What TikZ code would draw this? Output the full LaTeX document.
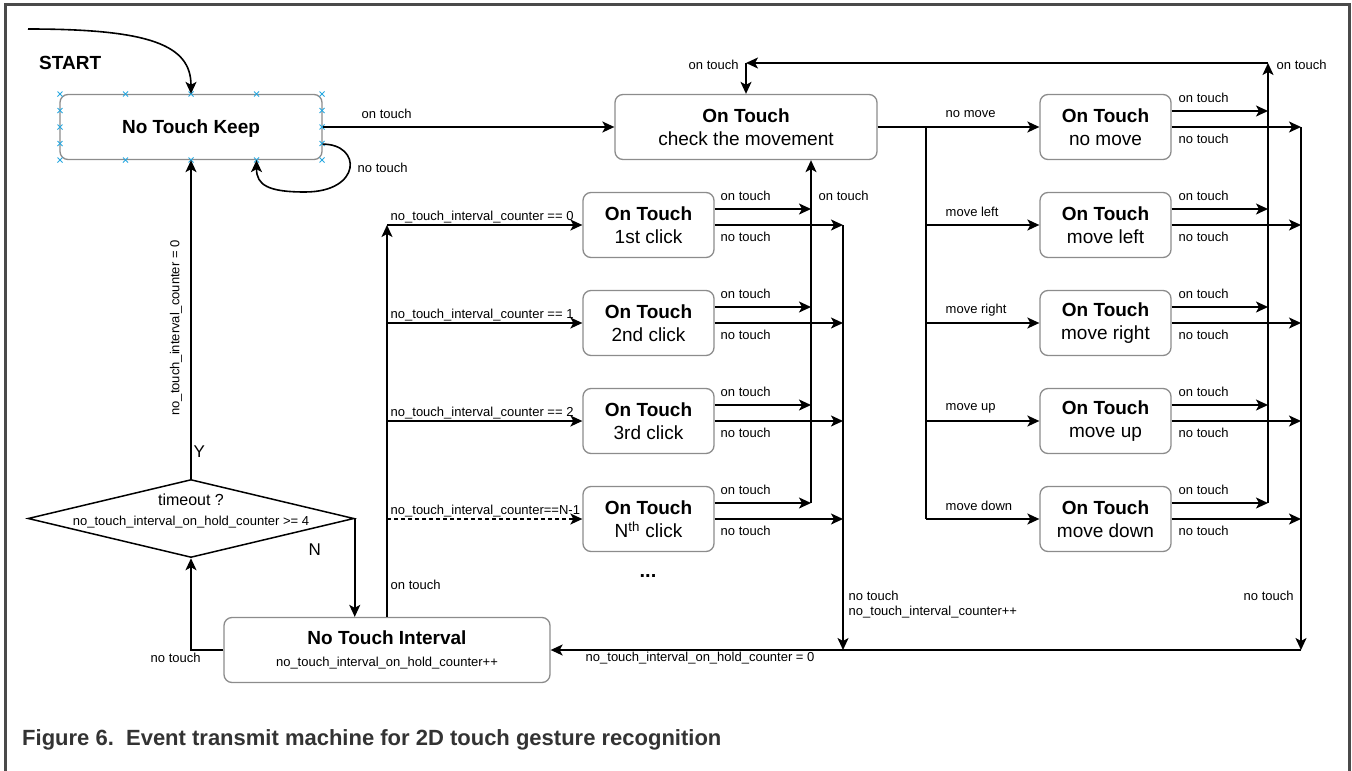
\documentclass[tikz,border=0pt]{standalone}
\usepackage{fontspec}
\setmainfont{Liberation Sans}
\usetikzlibrary{arrows.meta,positioning,shapes.geometric}

\definecolor{boxgray}{HTML}{8C8C8C}
\definecolor{handle}{HTML}{29A8E0}
\definecolor{framegray}{HTML}{4A4A4A}
\definecolor{capgray}{HTML}{333333}

\newcommand{\lblfont}{\fontsize{13}{15}\selectfont}
\newcommand{\boxfont}{\fontsize{19}{23}\selectfont}

\begin{document}
\begin{tikzpicture}[
  x=1pt, y=-1pt,
  font=\lblfont,
  state/.style={draw=boxgray, line width=1.3pt, rounded corners=8pt, fill=white,
                minimum width=131pt, minimum height=65pt, inner sep=1pt,
                align=center, font=\boxfont},
  wide/.style={state, minimum width=262pt},
  decision/.style={draw, line width=1.5pt, diamond, minimum width=326pt,
                   minimum height=78pt, inner sep=0pt},
  lbl/.style={inner sep=0.5pt, anchor=west, font=\lblfont},
  big/.style={inner sep=0.5pt, font=\fontsize{17}{20}\selectfont},
  edge/.style={line width=1.6pt},
  arr/.style={edge, -{Stealth[length=12pt, width=11pt, inset=3pt]}},
  darr/.style={arr, dash pattern=on 4pt off 3pt},
  handlemark/.style={draw=handle, line width=0.8pt}
]
\useasboundingbox (0,0) rectangle (1352,771);
% --- frame -----------------------------------------------------------------
\draw[framegray, line width=3pt] (5,771) -- (5,4) -- (1349,4) -- (1349,771);

% --- nodes -----------------------------------------------------------------
\node[font=\bfseries\fontsize{19}{23}\selectfont, anchor=west, inner sep=0pt]
  (start) at (39,63) {START};
\coordinate (startpt) at (28,29);
\node[wide, text depth=0pt] (ntk) at (191,127) {\textbf{No Touch Keep}};
\node[wide] (chk) at (746,127) {\textbf{On Touch}\\check the movement};
\node[state, minimum width=326pt] (nti) at (387,650)
  {\textbf{No Touch Interval}\\[-1pt]{\lblfont no\_touch\_interval\_on\_hold\_counter++}};
\node[decision] (dec) at (191,518.5) {};
\node[inner sep=0pt, font=\fontsize{16}{19}\selectfont] (dectop) at (191,500) {timeout ?};
\node[inner sep=0pt] (decbot) at (191,522) {no\_touch\_interval\_on\_hold\_counter >= 4};

% handles of the selected box
\foreach \x in {60,125.5,191,256.5,322}
  \foreach \y in {94,160}
    \draw[handlemark] (\x-2.5,\y-2.5) -- (\x+2.5,\y+2.5) (\x-2.5,\y+2.5) -- (\x+2.5,\y-2.5);
\foreach \y in {110.5,127,143.5}
  \foreach \x in {60,322}
    \draw[handlemark] (\x-2.5,\y-2.5) -- (\x+2.5,\y+2.5) (\x-2.5,\y+2.5) -- (\x+2.5,\y-2.5);

% click column
\foreach \n/\y/\txt/\cond in {c1/225/1st click/ == 0, c2/323/2nd click/ == 1,
                              c3/421/3rd click/ == 2, c4/519/N\textsuperscript{th} click/==N-1} {
  \node[state] (\n) at (648.5,\y) {\textbf{On Touch}\\\txt};
  \coordinate (\n-in) at (387,\y);
  \coordinate (\n-ot) at (811,\y-16);
  \coordinate (\n-nt) at (843,\y);
  \node[lbl] (\n-cond) at (390,\y-8) {no\_touch\_interval\_counter\cond};
  \node[lbl] (\n-otl) at (720,\y-29) {on touch};
  \node[lbl] (\n-ntl) at (720,\y+12) {no touch};
}
\node[font=\bfseries\fontsize{20}{23}\selectfont] (dots) at (648,576) {...};

% movement column
\foreach \n/\y/\txt in {mv1/127/no move, mv2/225/move left, mv3/323/move right,
                        mv4/421/move up, mv5/519/move down} {
  \node[state] (\n) at (1105.5,\y) {\textbf{On Touch}\\\txt};
  \coordinate (\n-in) at (926,\y);
  \coordinate (\n-ot) at (1268,\y-16);
  \coordinate (\n-nt) at (1301,\y);
  \node[lbl] (\n-dir) at (945,\y-13) {\txt};
  \node[lbl] (\n-otl) at (1178,\y-29) {on touch};
  \node[lbl] (\n-ntl) at (1178,\y+12) {no touch};
}
\coordinate (topR) at (1268,63);
\coordinate (topL) at (746,63);
\coordinate (ntcorner) at (1301,650);
\coordinate (ntjoin) at (843,650);

% --- edges -----------------------------------------------------------------
\draw[arr] (startpt) .. controls (150,29) and (191,45) .. (ntk.north);
\draw[arr] ([yshift=16pt]ntk.south east) .. controls (362,144) and (362,192) .. (305,192)
  .. controls (268,192) and (256.5,185) .. ([xshift=65.5pt]ntk.south);
\draw[arr] (ntk) -- (chk);

\foreach \n in {c1,c2,c3} \draw[arr] (\n-in) -- (\n);
\draw[darr] (c4-in) -- (c4);
\draw[arr] (nti.north) -- (c1-in);
\foreach \n in {c1,c2,c3,c4} {
  \draw[arr] (\n.east |- \n-ot) -- (\n-ot);
  \draw[arr] (\n) -- (\n-nt);
}
\draw[arr] (c4-ot) -- (c4-ot |- chk.south);
\draw[arr] (c1-nt) -- (ntjoin);

\draw[arr] (chk) -- (mv1);
\draw[edge] (mv1-in) -- (mv5-in);
\foreach \n in {mv2,mv3,mv4,mv5} \draw[arr] (\n-in) -- (\n);
\foreach \n in {mv1,mv2,mv3,mv4,mv5} {
  \draw[arr] (\n.east |- \n-ot) -- (\n-ot);
  \draw[arr] (\n) -- (\n-nt);
}
\draw[arr] (mv5-ot) -- (topR);
\draw[arr] (topR) -- (topL);
\draw[arr] (topL) -- (chk);
\draw[arr] (mv1-nt) -- (ntcorner);
\draw[arr] (ntcorner) -- (nti);

\draw[arr] (dec) -- (ntk);
\draw[arr] (dec.east) -- (dec.east |- nti.north);
\draw[arr] (nti.west) -| (dec.south);

% --- labels ----------------------------------------------------------------
\node[lbl] (l-ntk) at (361,114) {on touch};
\node[lbl] (l-loop) at (357,168) {no touch};
\node[lbl] (l-top) at (688,65) {on touch};
\node[lbl] (l-topr) at (1276,65) {on touch};
\node[lbl] (l-up) at (818,196) {on touch};
\node[lbl] (l-ntc1) at (848,596) {no touch};
\node[lbl] (l-ntc2) at (848,612) {no\_touch\_interval\_counter++};
\node[lbl] (l-ntr) at (1243,596) {no touch};
\node[lbl] (l-reset) at (585,658) {no\_touch\_interval\_on\_hold\_counter = 0};
\node[lbl] (l-ont) at (390,585) {on touch};
\node[lbl] (l-nt) at (150,658) {no touch};
\node[lbl, rotate=90, anchor=center] (l-y0) at (176,328) {no\_touch\_interval\_counter = 0};
\node[big, anchor=west] (l-yes) at (193,452) {Y};
\node[big, anchor=west] (l-no) at (308,550) {N};

\node[anchor=west, inner sep=0pt, text=capgray, font=\bfseries\fontsize{22}{26}\selectfont]
  (caption) at (22,740) {Figure 6.\ \ Event transmit machine for 2D touch gesture recognition};
\end{tikzpicture}
\end{document}
